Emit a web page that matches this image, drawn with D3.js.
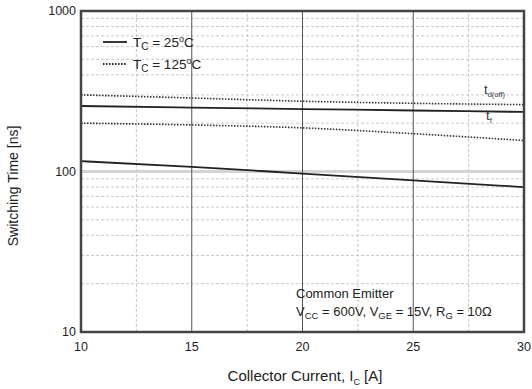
<!DOCTYPE html>
<html>
<head>
<meta charset="utf-8">
<script src="https://cdn.jsdelivr.net/npm/d3@7"></script>
<style>
  body { margin: 0; background: #fff; }
  svg { display: block; font-family: "Liberation Sans", Arial, sans-serif; }
</style>
</head>
<body>
<svg id="chart" width="532" height="389"></svg>
<script>
// collector current samples [A]
const currents = [10, 15, 20, 25, 30];
// switching times [ns]
const tdoff25 = [256, 250, 245, 240, 235];
const tdoff125 = [300, 287, 274, 266, 261];
const tf25 = [116, 107, 97, 88, 80];
const tf125 = [200, 195, 187, 172, 156];

const xTicks = [10, 15, 20, 25, 30];
const xMinor = [12.5, 17.5, 22.5, 27.5];
const yTicks = [10, 100, 1000];

const W = 532, H = 389;
const m = { left: 81, right: 8, top: 11, bottom: 57 };

const svg = d3.select("#chart");
const x = d3.scaleLinear().domain([10, 30]).range([m.left, W - m.right]);
const y = d3.scaleLog().domain([10, 1000]).range([H - m.bottom, m.top]);

const g = svg.append("g");

// minor horizontal grid (log minors)
const minors = [];
for (let dec = 10; dec < 1000; dec *= 10)
  for (let k = 2; k <= 9; k++) minors.push(dec * k);

g.selectAll(".hminor")
  .data(minors)
  .enter().append("line")
  .attr("x1", x(10)).attr("x2", x(30))
  .attr("y1", d => y(d)).attr("y2", d => y(d))
  .attr("stroke", "#c8c8c8")
  .attr("stroke-width", 1)
  .attr("stroke-dasharray", "3,2");

// major line at 100
g.append("line")
  .attr("x1", x(10)).attr("x2", x(30))
  .attr("y1", y(100)).attr("y2", y(100))
  .attr("stroke", "#d4d4d4")
  .attr("stroke-width", 3);

// vertical grid
g.selectAll(".vminor")
  .data(xMinor)
  .enter().append("line")
  .attr("x1", d => x(d)).attr("x2", d => x(d))
  .attr("y1", y(10)).attr("y2", y(1000))
  .attr("stroke", "#c8c8c8")
  .attr("stroke-dasharray", "3,2");

g.selectAll(".vmajor")
  .data(xTicks.slice(1, -1))
  .enter().append("line")
  .attr("x1", d => x(d)).attr("x2", d => x(d))
  .attr("y1", y(10)).attr("y2", y(1000))
  .attr("stroke", "#555")
  .attr("stroke-width", 1);

// curves
const line = d3.line().x((d, i) => x(currents[i])).y(d => y(d)).curve(d3.curveMonotoneX);

const series = [
  { v: tdoff25, dash: null },
  { v: tf25, dash: null },
  { v: tdoff125, dash: "1.5,1.5" },
  { v: tf125, dash: "1.5,1.5" }
];
g.selectAll(".curve")
  .data(series)
  .enter().append("path")
  .attr("d", d => line(d.v))
  .attr("fill", "none")
  .attr("stroke", d => d.dash ? "#333" : "#222")
  .attr("stroke-width", d => d.dash ? 1.6 : 1.8)
  .attr("stroke-dasharray", d => d.dash);

// frame
g.append("rect")
  .attr("x", x(10)).attr("y", y(1000))
  .attr("width", x(30) - x(10)).attr("height", y(10) - y(1000))
  .attr("fill", "none")
  .attr("stroke", "#444")
  .attr("stroke-width", 2.5);

// tick labels
svg.selectAll(".ylab")
  .data(yTicks)
  .enter().append("text")
  .attr("x", x(10) - 5).attr("y", d => y(d) + 4)
  .attr("text-anchor", "end")
  .attr("font-size", 12.5)
  .attr("fill", "#222")
  .text(d => d);

svg.selectAll(".xlab")
  .data(xTicks)
  .enter().append("text")
  .attr("x", d => x(d)).attr("y", y(10) + 19)
  .attr("text-anchor", "middle")
  .attr("font-size", 12.5)
  .attr("fill", "#222")
  .text(d => d);

// axis titles
svg.append("text")
  .attr("transform", "translate(18,186)rotate(-90)")
  .attr("text-anchor", "middle")
  .attr("font-size", 14)
  .attr("fill", "#222")
  .text("Switching Time [ns]");

const xt = svg.append("text")
  .attr("x", 305).attr("y", 381)
  .attr("text-anchor", "middle")
  .attr("font-size", 15)
  .attr("fill", "#222");
xt.append("tspan").text("Collector Current, I");
xt.append("tspan").attr("font-size", 9).attr("dy", 4).text("C");
xt.append("tspan").attr("dy", -4).text(" [A]");

// legend
const legend = [
  { label: "25", dash: null },
  { label: "125", dash: "1.5,1.5" }
];
const lg = svg.selectAll(".leg")
  .data(legend)
  .enter().append("g")
  .attr("transform", (d, i) => "translate(103," + (42 + i * 22) + ")");
lg.append("line")
  .attr("x1", 0).attr("x2", 24)
  .attr("stroke", "#222")
  .attr("stroke-width", 1.8)
  .attr("stroke-dasharray", d => d.dash);
const lt = lg.append("text")
  .attr("x", 30).attr("y", 5)
  .attr("font-size", 13.5)
  .attr("fill", "#222");
lt.append("tspan").text("T");
lt.append("tspan").attr("font-size", 10).attr("dy", 3).text("C");
lt.append("tspan").attr("dy", -3).text(d => " = " + d.label);
lt.append("tspan").attr("font-size", 9).attr("dy", -5).text("o");
lt.append("tspan").attr("dy", 5).text("C");

// curve labels
const l1 = svg.append("text").attr("x", 484).attr("y", 94).attr("font-size", 13).attr("fill", "#334");
l1.append("tspan").text("t");
l1.append("tspan").attr("font-size", 7.5).attr("dy", 3).text("d(off)");
const l2 = svg.append("text").attr("x", 486).attr("y", 120).attr("font-size", 13).attr("fill", "#334");
l2.append("tspan").text("t");
l2.append("tspan").attr("font-size", 7.5).attr("dy", 3).text("f");

// test conditions
svg.append("text")
  .attr("x", 296).attr("y", 298)
  .attr("font-size", 13)
  .attr("fill", "#222")
  .text("Common Emitter");
const cond = svg.append("text")
  .attr("x", 296).attr("y", 316)
  .attr("font-size", 13)
  .attr("fill", "#222");
[["V", "CC", " = 600V, "], ["V", "GE", " = 15V, "], ["R", "G", " = 10\u03A9"]].forEach(p => {
  cond.append("tspan").text(p[0]);
  cond.append("tspan").attr("font-size", 9.5).attr("dy", 3).text(p[1]);
  cond.append("tspan").attr("dy", -3).text(p[2]);
});
</script>
</body>
</html>
